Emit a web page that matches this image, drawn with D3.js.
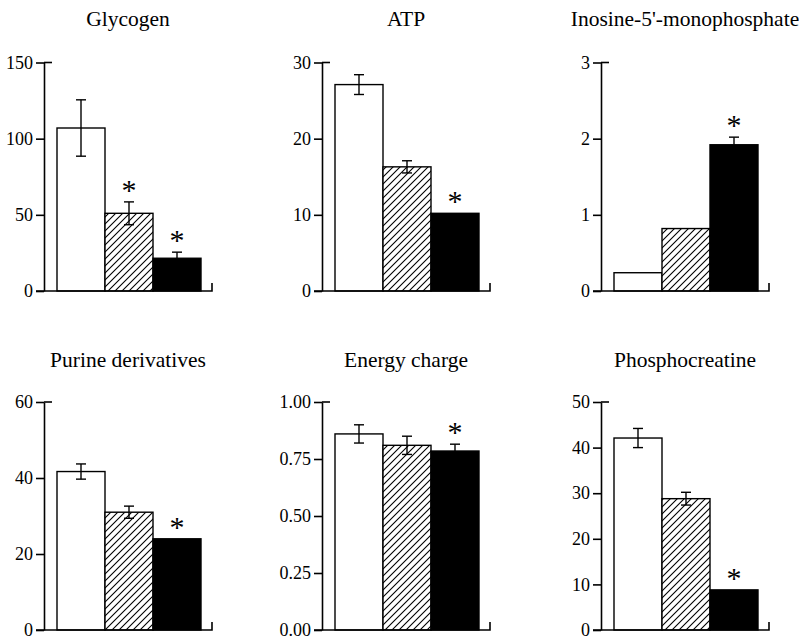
<!DOCTYPE html>
<html>
<head>
<meta charset="utf-8">
<script src="https://cdn.jsdelivr.net/npm/d3@7"></script>
<style>
    body { margin: 0; background: #fff; }
</style>
</head>
<body>
<svg id="chart"></svg>
<script>
// values
const titles = ["Glycogen", "ATP", "Inosine-5'-monophosphate", "Purine derivatives", "Energy charge", "Phosphocreatine"];
const groups = ["open", "hatched", "solid"];
const means = [
    [107, 51, 21.5],
    [27.1, 16.3, 10.2],
    [0.24, 0.82, 1.92],
    [41.7, 31, 24],
    [0.86, 0.81, 0.785],
    [42.1, 28.8, 8.8]
];
const sems = [
    [18.5, 7.5, 4],
    [1.3, 0.8, 0],
    [0, 0, 0.1],
    [2, 1.6, 0],
    [0.04, 0.04, 0.03],
    [2.1, 1.4, 0]
];
const stars = [
    [false, true, true],
    [false, false, true],
    [false, false, true],
    [false, false, true],
    [false, false, true],
    [false, false, true]
];
const yMax = [150, 30, 3, 60, 1, 50];
const yStep = [50, 10, 1, 20, 0.25, 10];
const yFormat = ["d", "d", "d", "d", ".2f", "d"];

const width = 799, height = 639;
const colX = [44, 322, 601];
const rows = [{ top: 62.5, bottom: 291, title: 26 }, { top: 402, bottom: 630, title: 367 }];
const fills = ["#fff", "url(#hatch)", "#000"];
const serif = '"Liberation Serif"';

const svg = d3.select("#chart")
    .attr("width", width)
    .attr("height", height);

const pat = svg.append("defs").append("pattern")
    .attr("id", "hatch")
    .attr("patternUnits", "userSpaceOnUse")
    .attr("width", 7)
    .attr("height", 7);
pat.append("rect").attr("width", 7).attr("height", 7).attr("fill", "#fff");
pat.append("path")
    .attr("d", "M0,7 L7,0 M-1,1 L1,-1 M6,8 L8,6")
    .attr("stroke", "#000")
    .attr("stroke-width", 1.1);

titles.forEach((title, i) => {
    const ax = colX[i % 3];
    const row = rows[Math.floor(i / 3)];

    const x = d3.scaleBand().domain(groups).range([ax + 13, ax + 157]).padding(0);
    const y = d3.scaleLinear().domain([0, yMax[i]]).range([row.bottom, row.top]);
    const endX = ax + 168;
    const mid = d => x(d.key) + x.bandwidth() / 2;

    const g = svg.append("g");

    g.append("text")
        .attr("x", (ax + endX) / 2)
        .attr("y", row.title)
        .attr("text-anchor", "middle")
        .style("font-family", serif)
        .style("font-size", "21.5px")
        .text(title);

    const data = groups.map((k, j) => ({ key: k, mean: means[i][j], se: sems[i][j], star: stars[i][j], fill: fills[j] }));

    g.selectAll("rect.bar")
        .data(data)
        .join("rect")
        .attr("class", "bar")
        .attr("x", d => x(d.key))
        .attr("y", d => y(d.mean))
        .attr("width", x.bandwidth())
        .attr("height", d => y(0) - y(d.mean))
        .attr("fill", d => d.fill)
        .attr("stroke", "#000")
        .attr("stroke-width", 1.4);

    const err = g.selectAll("g.err")
        .data(data.filter(d => d.se > 0))
        .join("g")
        .attr("class", "err")
        .attr("stroke", "#000")
        .attr("stroke-width", 1.4);
    // stem, upper cap, lower cap (the lower half is hidden inside a solid bar)
    err.append("line")
        .attr("x1", mid).attr("x2", mid)
        .attr("y1", d => y(d.mean + d.se))
        .attr("y2", d => d.fill === "#000" ? y(d.mean) : y(d.mean - d.se));
    err.append("line")
        .attr("x1", d => mid(d) - 5).attr("x2", d => mid(d) + 5)
        .attr("y1", d => y(d.mean + d.se))
        .attr("y2", d => y(d.mean + d.se));
    err.filter(d => d.fill !== "#000")
        .append("line")
        .attr("x1", d => mid(d) - 5).attr("x2", d => mid(d) + 5)
        .attr("y1", d => y(d.mean - d.se))
        .attr("y2", d => y(d.mean - d.se));

    g.selectAll("text.star")
        .data(data.filter(d => d.star))
        .join("text")
        .attr("class", "star")
        .attr("x", mid)
        .attr("y", d => y(d.mean + d.se) - 16 + 14)
        .attr("text-anchor", "middle")
        .style("font-family", serif)
        .style("font-size", "30px")
        .attr("fill", "#000")
        .text("*");

    const ticks = d3.range(0, yMax[i] + yStep[i] / 2, yStep[i]);
    const yAxis = g.append("g")
        .attr("transform", `translate(${ax},0)`)
        .call(d3.axisLeft(y).tickValues(ticks).tickFormat(d3.format(yFormat[i])).tickSize(8).tickSizeOuter(0).tickPadding(3));
    yAxis.selectAll("line, path").attr("stroke", "#000").attr("stroke-width", 1.6);
    yAxis.selectAll("text")
        .attr("fill", "#000")
        .style("font-family", serif)
        .style("font-size", "18px");

    // cap across the top of the axis
    g.append("line")
        .attr("x1", ax).attr("x2", ax + 8)
        .attr("y1", y(yMax[i])).attr("y2", y(yMax[i]))
        .attr("stroke", "#000").attr("stroke-width", 1.6);

    // base line with the closing tick on the right
    g.append("path")
        .attr("d", `M${ax - 8},${y(0)}H${endX}V${y(0) - 8}`)
        .attr("fill", "none")
        .attr("stroke", "#000")
        .attr("stroke-width", 1.6);
});
</script>
</body>
</html>
